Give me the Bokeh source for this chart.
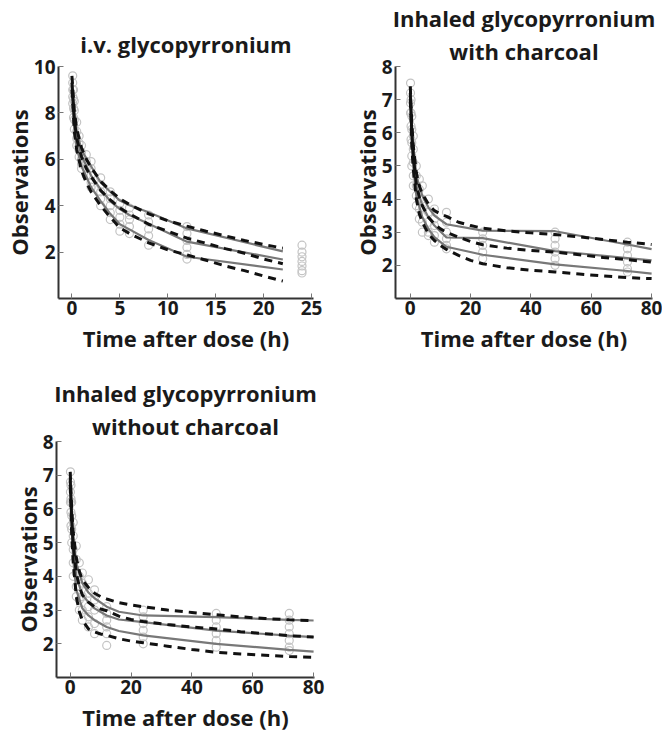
from bokeh.plotting import figure
from bokeh.layouts import column, row
from bokeh.models import FixedTicker, Range1d, Title
from bokeh.embed import file_html
from bokeh.resources import INLINE

FONT = "Open Sans"

# ---------------- i.v. glycopyrronium ----------------
iv_obs_times = [0.083, 0.167, 0.25, 0.5, 0.75, 1, 1.5, 2, 3, 4, 5, 6, 8, 12, 24]
iv_obs_values = [
    [9.6, 9.3, 9.0, 8.7, 8.4],
    [9.0, 8.6, 8.2, 7.8],
    [8.5, 8.1, 7.7, 7.3],
    [7.6, 7.2, 6.9, 6.6],
    [7.0, 6.7, 6.4, 6.1],
    [6.6, 6.3, 6.0, 5.8, 5.6],
    [6.2, 5.9, 5.6, 5.3],
    [5.9, 5.6, 5.3, 5.0, 4.8],
    [5.2, 4.9, 4.6, 4.3, 4.0],
    [4.6, 4.3, 4.0, 3.7, 3.4],
    [4.1, 3.8, 3.5, 3.2, 2.9],
    [3.9, 3.6, 3.4, 3.1, 2.8],
    [3.6, 3.3, 3.0, 2.7, 2.3],
    [3.1, 2.8, 2.5, 2.2, 1.9, 1.7],
    [2.3, 2.0, 1.8, 1.6, 1.4, 1.2, 1.1],
]
iv_pct_time = [0, 0.25, 0.5, 1, 2, 3, 4, 5, 6, 8, 12, 22]
iv_obs_p95 = [9.5, 8.0, 7.2, 6.4, 5.7, 5.0, 4.6, 4.22, 4.02, 3.72, 3.02, 2.03]
iv_obs_p50 = [9.3, 7.7, 6.9, 6.15, 5.3, 4.7, 4.2, 3.85, 3.6, 3.22, 2.45, 1.68]
iv_obs_p05 = [9.0, 7.3, 6.5, 5.7, 4.8, 4.2, 3.65, 3.2, 2.98, 2.52, 1.8, 1.25]
iv_pred_time = [0, 0.25, 0.5, 1, 1.5, 2, 3, 4, 5, 6, 8, 10, 12, 14, 16, 18, 20, 22]
iv_pred_hi = [9.6, 8.1, 7.3, 6.5, 6.0, 5.65, 5.05, 4.65, 4.3, 4.05, 3.65, 3.35, 3.12, 2.9, 2.7, 2.5, 2.33, 2.17]
iv_pred_med = [9.3, 7.7, 6.9, 6.1, 5.6, 5.25, 4.65, 4.25, 3.9, 3.65, 3.2, 2.9, 2.6, 2.38, 2.15, 1.95, 1.7, 1.5]
iv_pred_lo = [9.0, 7.2, 6.4, 5.5, 5.0, 4.6, 4.0, 3.5, 3.05, 2.8, 2.4, 2.1, 1.88, 1.65, 1.4, 1.2, 0.97, 0.75]

# ---------------- Inhaled with charcoal ----------------
wc_obs_times = [0.083, 0.25, 0.5, 1, 2, 3, 4, 6, 8, 12, 24, 48, 72]
wc_obs_values = [
    [7.5, 7.2, 6.9, 6.6],
    [7.0, 6.6, 6.2, 5.8],
    [6.5, 6.1, 5.7, 5.3, 5.0],
    [5.9, 5.5, 5.1, 4.7, 4.4],
    [5.0, 4.7, 4.4, 4.1, 3.8],
    [4.6, 4.3, 4.0, 3.7, 3.4],
    [4.4, 4.0, 3.7, 3.3, 3.0],
    [4.0, 3.6, 3.3, 3.0, 2.9],
    [3.7, 3.4, 3.2, 2.9, 2.7],
    [3.6, 3.3, 3.0, 2.8, 2.6, 2.5],
    [3.0, 2.8, 2.6, 2.4, 2.2],
    [3.0, 2.8, 2.6, 2.4, 2.2, 2.0],
    [2.7, 2.5, 2.3, 2.1, 1.9, 1.8],
]
wc_pct_time = [0, 0.5, 1, 2, 4, 6, 8, 12, 24, 48, 72, 80]
wc_obs_p95 = [7.4, 6.3, 5.6, 4.7, 4.1, 3.75, 3.5, 3.24, 3.05, 3.03, 2.63, 2.49]
wc_obs_p50 = [7.2, 6.0, 5.3, 4.4, 3.8, 3.45, 3.2, 2.84, 2.82, 2.43, 2.22, 2.15]
wc_obs_p05 = [7.0, 5.7, 5.0, 4.1, 3.45, 3.1, 2.85, 2.56, 2.32, 2.03, 1.83, 1.75]
wc_pred_time = [0, 0.5, 1, 2, 3, 4, 6, 8, 10, 12, 16, 20, 24, 32, 40, 48, 56, 64, 72, 80]
wc_pred_hi = [7.4, 6.3, 5.6, 4.8, 4.4, 4.15, 3.85, 3.65, 3.55, 3.48, 3.3, 3.2, 3.12, 3.04, 2.98, 2.93, 2.86, 2.78, 2.7, 2.63]
wc_pred_med = [7.2, 6.0, 5.3, 4.45, 4.05, 3.8, 3.45, 3.25, 3.1, 3.0, 2.85, 2.72, 2.62, 2.52, 2.45, 2.4, 2.32, 2.24, 2.17, 2.1]
wc_pred_lo = [7.0, 5.6, 4.9, 4.0, 3.55, 3.3, 2.95, 2.75, 2.6, 2.48, 2.3, 2.15, 2.05, 1.93, 1.85, 1.8, 1.74, 1.68, 1.63, 1.6]

# ---------------- Inhaled without charcoal ----------------
woc_obs_times = [0.083, 0.25, 0.5, 1, 2, 3, 4, 6, 8, 12, 24, 48, 72]
woc_obs_values = [
    [7.1, 6.8, 6.5, 6.2],
    [6.7, 6.3, 5.9, 5.5],
    [6.2, 5.8, 5.4, 5.0],
    [5.6, 5.2, 4.8, 4.4, 4.0],
    [4.9, 4.5, 4.1, 3.7, 3.4],
    [4.4, 4.0, 3.7, 3.3, 3.0],
    [4.1, 3.8, 3.4, 3.0, 2.7],
    [3.9, 3.5, 3.1, 2.8, 2.5],
    [3.6, 3.3, 3.0, 2.6, 2.3],
    [3.1, 2.9, 2.7, 2.5, 2.3, 1.95],
    [3.0, 2.8, 2.6, 2.4, 2.2, 2.0],
    [2.9, 2.7, 2.5, 2.3, 2.1, 1.9],
    [2.9, 2.7, 2.5, 2.3, 2.1, 1.9, 1.8],
]
woc_pct_time = [0, 0.5, 1, 2, 4, 6, 8, 12, 16, 24, 48, 72, 80]
woc_obs_p95 = [7.1, 6.0, 5.2, 4.4, 3.8, 3.52, 3.35, 3.1, 2.95, 2.84, 2.79, 2.71, 2.69]
woc_obs_p50 = [6.9, 5.7, 4.9, 4.0, 3.45, 3.23, 3.05, 2.84, 2.72, 2.64, 2.39, 2.24, 2.2]
woc_obs_p05 = [6.8, 5.4, 4.5, 3.6, 3.05, 2.84, 2.7, 2.5, 2.38, 2.25, 2.0, 1.82, 1.77]
woc_pred_time = [0, 0.5, 1, 2, 3, 4, 6, 8, 10, 12, 16, 20, 24, 32, 40, 48, 56, 64, 72, 80]
woc_pred_hi = [7.1, 6.0, 5.3, 4.55, 4.15, 3.9, 3.67, 3.5, 3.4, 3.33, 3.22, 3.15, 3.1, 3.0, 2.93, 2.86, 2.8, 2.75, 2.71, 2.69]
woc_pred_med = [6.9, 5.7, 4.9, 4.1, 3.7, 3.45, 3.23, 3.1, 3.03, 2.98, 2.82, 2.72, 2.66, 2.57, 2.5, 2.44, 2.36, 2.3, 2.24, 2.2]
woc_pred_lo = [6.7, 5.2, 4.4, 3.4, 2.95, 2.7, 2.44, 2.35, 2.29, 2.25, 2.15, 2.08, 2.03, 1.93, 1.83, 1.75, 1.7, 1.66, 1.62, 1.6]

titles = [["i.v. glycopyrronium"],
          ["Inhaled glycopyrronium", "with charcoal"],
          ["Inhaled glycopyrronium", "without charcoal"]]
x_label = "Time after dose (h)"
y_label = "Observations"
iv_xticks = [0, 5, 10, 15, 20, 25]
iv_yticks = [2, 4, 6, 8, 10]
inh_xticks = [0, 20, 40, 60, 80]
inh_yticks = [2, 3, 4, 5, 6, 7, 8]


def expand(times, values):
    xs, ys = [], []
    for t, vals in zip(times, values):
        for v in vals:
            xs.append(t)
            ys.append(v)
    return xs, ys


def panel(title_lines, fw, fh, bl, br, bt, bb, xr, yr, xt, yt, standoff,
          obs_t, obs_v, pct_t, p95, p50, p05, pr_t, hi, med, lo):
    p = figure(frame_width=fw, frame_height=fh, output_backend="svg",
               toolbar_location=None, title=None,
               x_range=Range1d(*xr), y_range=Range1d(*yr),
               min_border_left=bl, min_border_right=br,
               min_border_top=bt, min_border_bottom=bb)
    # lines added from the frame outward
    for i, line in enumerate(reversed(title_lines)):
        p.add_layout(Title(text=line, align="center", text_font=FONT,
                           text_font_size="22px", text_font_style="bold",
                           text_color="#1a1a1a",
                           standoff=standoff if i == 0 else 0), "above")
    p.grid.visible = False
    p.outline_line_color = None
    p.background_fill_color = "white"
    p.border_fill_color = "white"
    for ax in (p.xaxis[0], p.yaxis[0]):
        ax.axis_line_width = 2
        ax.axis_line_color = "#333333"
        ax.major_tick_in = 5
        ax.major_tick_out = 0
        ax.major_tick_line_color = "#777777"
        ax.minor_tick_line_color = None
        ax.major_label_text_font = FONT
        ax.major_label_text_font_size = "19px"
        ax.major_label_text_font_style = "bold"
        ax.major_label_text_color = "#1a1a1a"
        ax.axis_label_text_font = FONT
        ax.axis_label_text_font_size = "22px"
        ax.axis_label_text_font_style = "bold"
        ax.axis_label_text_color = "#1a1a1a"
    p.yaxis[0].major_label_standoff = 3
    p.yaxis[0].axis_label_standoff = -3
    p.xaxis[0].major_label_standoff = 2
    p.xaxis[0].axis_label_standoff = 5
    p.xaxis[0].ticker = FixedTicker(ticks=xt)
    p.yaxis[0].ticker = FixedTicker(ticks=yt)
    p.xaxis[0].axis_label = x_label
    p.yaxis[0].axis_label = y_label

    xs, ys = expand(obs_t, obs_v)
    p.scatter(xs, ys, marker="circle", size=8, fill_color=None,
              line_color="#c4c4c4", line_width=1.2)
    for s in (p95, p50, p05):
        p.line(pct_t, s, line_color="#787878", line_width=2.2)
    for s in (hi, med, lo):
        p.line(pr_t, s, line_color="#111111", line_width=3, line_dash="8 6")
    return p


p1 = panel(titles[0], 255, 232, 48, 16, 62, 52, (-1.4, 25.2), (0, 10),
           iv_xticks, iv_yticks, 16,
           iv_obs_times, iv_obs_values, iv_pct_time, iv_obs_p95, iv_obs_p50, iv_obs_p05,
           iv_pred_time, iv_pred_hi, iv_pred_med, iv_pred_lo)
p2 = panel(titles[1], 257, 232, 66, 10, 62, 52, (-4.9, 80.3), (1, 8),
           inh_xticks, inh_yticks, 2,
           wc_obs_times, wc_obs_values, wc_pct_time, wc_obs_p95, wc_obs_p50, wc_obs_p05,
           wc_pred_time, wc_pred_hi, wc_pred_med, wc_pred_lo)
p3 = panel(titles[2], 258, 236, 56, 16, 86, 56, (-4.5, 80.3), (1, 8),
           inh_xticks, inh_yticks, 2,
           woc_obs_times, woc_obs_values, woc_pct_time, woc_obs_p95, woc_obs_p50, woc_obs_p05,
           woc_pred_time, woc_pred_hi, woc_pred_med, woc_pred_lo)

layout = column(row(p1, p2), p3)
open("out.html", "w").write(file_html(layout, INLINE))
